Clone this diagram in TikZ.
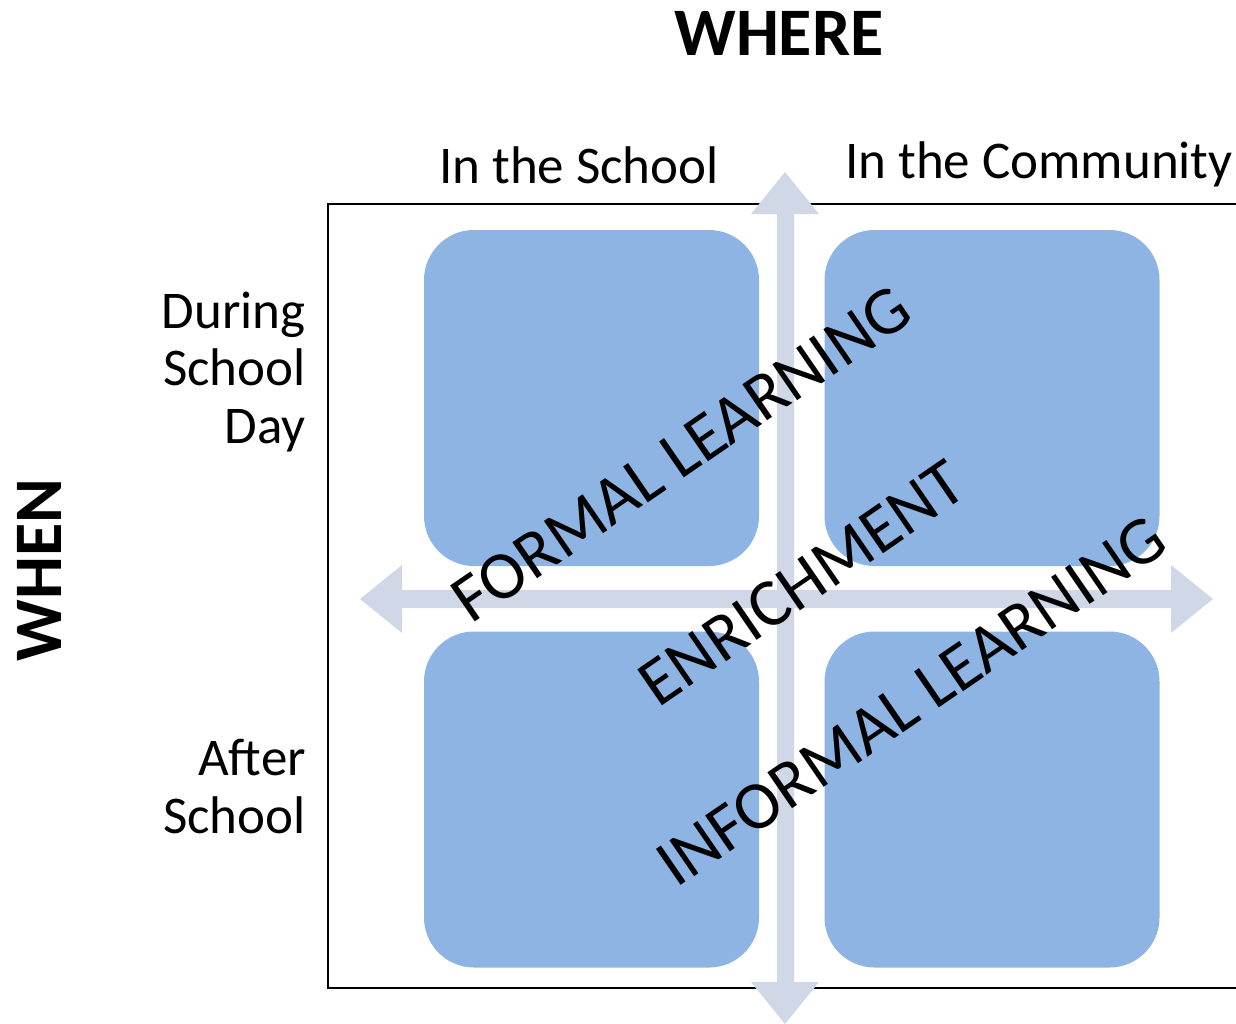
\documentclass[tikz,border=0pt]{standalone}
\usepackage{fontspec}
\setmainfont{Carlito}
\usepackage{tikz}

\definecolor{quadblue}{HTML}{8EB4E3}
\definecolor{crossgrey}{HTML}{D0D8E8}

\begin{document}
\begin{tikzpicture}[x=1pt, y=-1pt,
    quad/.style = {fill=quadblue, rounded corners=50pt, minimum width=335pt, minimum height=336pt, inner sep=0pt},
    lbl/.style = {font=\fontsize{53}{57.5}\selectfont, inner sep=0pt},
    diag/.style = {font=\fontsize{68}{68}\selectfont, rotate=34.5, inner sep=0pt},
    head/.style = {font=\bfseries\fontsize{68}{68}\selectfont, inner sep=0pt}]
    \useasboundingbox (0,0) rectangle (1236,1023);

    % frame, open on the right
    \draw[line width=2pt] (1240,204) -- (328,204) -- (328,988) -- (1240,988);

    % the two axes
    \fill[crossgrey] (777,214) -- (751,214) -- (785,172) -- (819,214) -- (794,214)
        -- (794,982) -- (819,982) -- (785,1024) -- (751,982) -- (777,982) -- cycle;
    \fill[crossgrey] (402,590) -- (402,565) -- (360,599) -- (402,633) -- (402,608)
        -- (1171,608) -- (1171,633) -- (1213,599) -- (1171,565) -- (1171,590) -- cycle;

    % quadrants
    \node[quad] (schoolday) at (591.5,398) {};
    \node[quad] (commday) at (992,398) {};
    \node[quad] (schoolafter) at (591.5,799.5) {};
    \node[quad] (commafter) at (992,799.5) {};

    % headings
    \node[head] (where) at (779,33) {WHERE};
    \node[head, rotate=90] (when) at (39,570) {WHEN};
    \node[lbl, anchor=base] (inschool) at (579,183) {In the School};
    \node[lbl, anchor=base west] (incomm) at (845,178) {In the Community};
    \node[lbl, align=right, anchor=base east] (during) at (306,443) {During\\School\\Day};
    \node[lbl, align=right, anchor=base east] (after) at (306,833) {After\\School};

    % diagonal labels
    \node[diag] (formal) at (681,454) {FORMAL LEARNING};
    \node[diag] (enrich) at (802,583) {ENRICHMENT};
    \node[diag] (informal) at (911,701) {INFORMAL LEARNING};
\end{tikzpicture}
\end{document}
